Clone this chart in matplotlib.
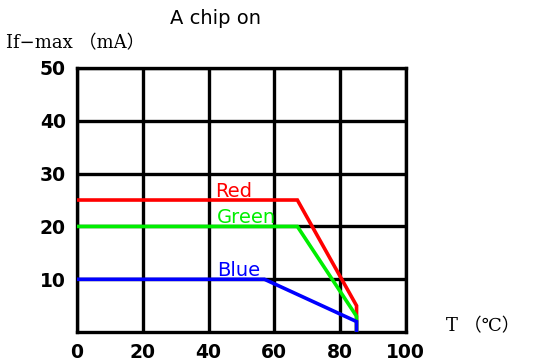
import matplotlib.pyplot as plt

# derating curves, If-max (mA) vs T (C)
red_t = [0, 67, 85, 85]
red_i = [25, 25, 5, 0]
green_t = [0, 67, 85, 85]
green_i = [20, 20, 3, 0]
blue_t = [0, 57, 85, 85]
blue_i = [10, 10, 2, 0]

xticks = [0, 20, 40, 60, 80, 100]
yticks = [10, 20, 30, 40, 50]

fig = plt.figure(figsize=(5.39, 3.63), dpi=100)
ax = fig.add_axes([0.143, 0.085, 0.610, 0.728])

ax.plot(red_t, red_i, color='#ff0000', lw=2.6, solid_joinstyle='miter', zorder=3)
ax.plot(green_t, green_i, color='#00ee00', lw=2.6, solid_joinstyle='miter', zorder=3)
ax.plot(blue_t, blue_i, color='#0000ff', lw=2.6, solid_joinstyle='miter', zorder=3)

ax.set_xlim(0, 100)
ax.set_ylim(0, 50)
ax.set_xticks(xticks)
ax.set_yticks(yticks)
ax.grid(True, color='black', lw=2.4)
ax.set_axisbelow(True)
for s in ax.spines.values():
    s.set_linewidth(2.4)
ax.tick_params(length=0, pad=8, labelsize=13.5)
for lab in ax.get_xticklabels() + ax.get_yticklabels():
    lab.set_fontweight('bold')
    lab.set_family('DejaVu Sans')

lab_kw = dict(fontsize=14, family='DejaVu Sans', va='center')
ax.text(42, 26.6, 'Red', color='#ff0000', **lab_kw)
ax.text(42.5, 21.7, 'Green', color='#00ee00', **lab_kw)
ax.text(42.5, 11.7, 'Blue', color='#0000ff', **lab_kw)

fig.text(0.40, 0.95, 'A chip on', fontsize=14, family='DejaVu Sans', ha='center', va='center')
fig.text(0.012, 0.882, 'If−max （mA）', fontsize=13, family=['DejaVu Serif', 'Noto Sans CJK SC'], va='center')
fig.text(0.828, 0.10, 'T （℃）', fontsize=13, family=['DejaVu Serif', 'Noto Sans CJK SC'], va='center')

fig.savefig('out.png', dpi=100)
